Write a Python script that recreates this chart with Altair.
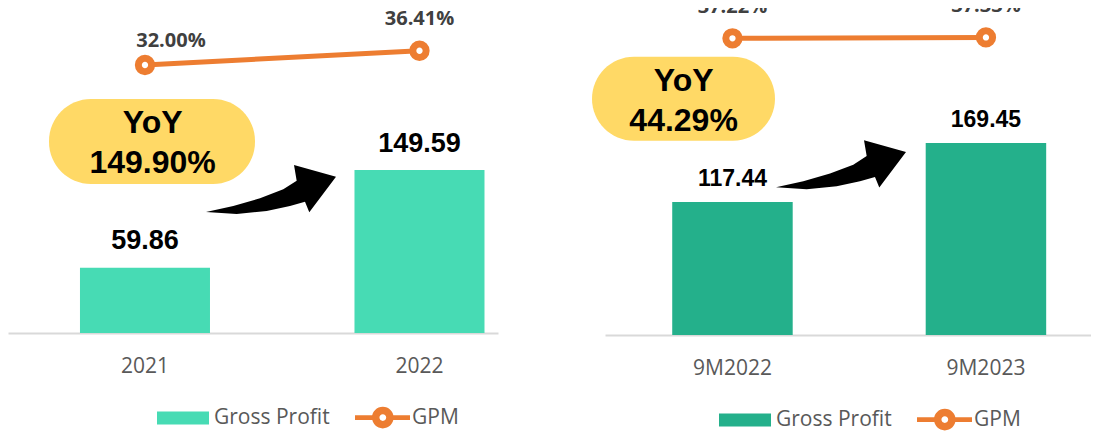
import altair as alt
import pandas as pd

# ---------------- data ----------------
periods_fy = ["2021", "2022"]
gross_profit_fy = [59.86, 149.59]
gpm_fy = [0.3200, 0.3641]
yoy_fy = "149.90%"

periods_9m = ["9M2022", "9M2023"]
gross_profit_9m = [117.44, 169.45]
gpm_9m = [0.3722, 0.3733]
yoy_9m = "44.29%"

series_names = ["Gross Profit", "GPM"]

# ---------------- styling ----------------
TEAL_FY = "#47DBB4"
TEAL_9M = "#24B08B"
ORANGE = "#ED7D31"
GOLD = "#FFD966"
AXIS_GREY = "#D9D9D9"
LABEL_GREY = "#595959"
BOLD_FONT = "Liberation Sans, Arial, sans-serif"
LIGHT_FONT = "Open Sans, sans-serif"

# legend symbols (unit paths; legend symbol size 676 -> 13 px per unit)
SWATCH_PATH = "M -1 -0.5 H 3 V 0.5 H -1 Z"
GPM_PATH = ("M -1 -0.19 H 0.6 V 0.19 H -1 Z "
            "M 1.7 -0.19 H 3.23 V 0.19 H 1.7 Z "
            "M 1.97 0 A 0.83 0.83 0 1 1 0.31 0 A 0.83 0.83 0 1 1 1.97 0 Z "
            "M 1.4 0 A 0.26 0.26 0 1 0 0.88 0 A 0.26 0.26 0 1 0 1.4 0 Z")
# curved, tapered arrow (unit path, drawn 130 px wide)
ARROW_PATH = ("M -1 0.354 L -0.58 0.262 L -0.169 0.143 L 0.189 0.005 "
              "L 0.395 -0.128 L 0.354 -0.369 L 1 -0.189 L 0.589 0.358 "
              "L 0.523 0.195 L 0.292 0.262 L -0.066 0.338 L -0.528 0.385 Z")


def panel(periods, gp, gpm, yoy, bar_color, W, H, xscale, gp_max, gpm_dom,
          bar_font, bar_dy, first_dx, first_dy, bubble, yoy_xy, arrow_xy, legend_xy,
          clip_top):
    df = pd.DataFrame({"period": periods, "gp": gp, "gpm": gpm})
    base = alt.Chart(df)

    x_enc = alt.X(
        "period:N", sort=periods, scale=xscale,
        axis=alt.Axis(title=None, labelAngle=0, ticks=False, tickSize=0,
                      domainColor=AXIS_GREY, domainWidth=2, grid=False,
                      labelFont=LIGHT_FONT, labelFontSize=21, labelColor=LABEL_GREY,
                      labelPadding=33, labelBaseline="middle"))
    y_gp = alt.Y("gp:Q", scale=alt.Scale(domain=[0, gp_max], nice=False, zero=True), axis=None)
    y_gpm = alt.Y("gpm:Q", scale=alt.Scale(domain=gpm_dom, nice=False, zero=False), axis=None)

    bars = base.mark_bar(color=bar_color).encode(x=x_enc, y=y_gp)
    bar_labels = base.mark_text(font=BOLD_FONT, fontSize=bar_font, fontWeight="bold",
                                color="black", baseline="alphabetic", dy=bar_dy).encode(
        x=x_enc, y=y_gp, text=alt.Text("gp:Q", format=".2f"))
    bar_layer = alt.layer(bars, bar_labels)

    line = base.mark_line(color=ORANGE, strokeWidth=5).encode(x=x_enc, y=y_gpm)
    pts = base.mark_point(filled=False, fill="white", fillOpacity=1, stroke=ORANGE,
                          strokeWidth=7, size=177, opacity=1).encode(x=x_enc, y=y_gpm)
    lbl_first = base.transform_filter(alt.datum.period == periods[0]).mark_text(
        font=LIGHT_FONT, fontSize=20, fontWeight="bold", color="#404040",
        baseline="alphabetic", dx=first_dx, dy=first_dy, clip=clip_top).encode(
        x=x_enc, y=y_gpm, text=alt.Text("gpm:Q", format=".2%"))
    lbl_rest = base.transform_filter(alt.datum.period != periods[0]).mark_text(
        font=LIGHT_FONT, fontSize=20, fontWeight="bold", color="#404040",
        baseline="alphabetic", dy=-25.6, clip=clip_top).encode(
        x=x_enc, y=y_gpm, text=alt.Text("gpm:Q", format=".2%"))
    gpm_layer = alt.layer(line, pts, lbl_first, lbl_rest)

    ann = alt.Chart(pd.DataFrame({"label": ["YoY\n" + yoy]}))
    bubble_rect = ann.mark_rect(color=GOLD, cornerRadius=42).encode(
        x=alt.value(bubble[0]), x2=alt.value(bubble[1]),
        y=alt.value(bubble[2]), y2=alt.value(bubble[3]))
    yoy_text = ann.mark_text(font=BOLD_FONT, fontSize=32, fontWeight="bold", color="black",
                             lineBreak="\n", lineHeight=39.5, align="center",
                             baseline="middle").encode(
        x=alt.value(yoy_xy[0]), y=alt.value(yoy_xy[1]), text="label:N")
    arrow = ann.mark_point(shape=ARROW_PATH, filled=True, color="black", size=16900,
                           strokeWidth=0, opacity=1).encode(
        x=alt.value(arrow_xy[0]), y=alt.value(arrow_xy[1]))

    leg = alt.Legend(orient="none", legendX=legend_xy[0], legendY=legend_xy[1],
                     direction="horizontal", title=None, padding=0,
                     labelFont=LIGHT_FONT, labelFontSize=21, labelColor=LABEL_GREY,
                     symbolSize=676, symbolStrokeWidth=0, symbolOpacity=1,
                     labelOffset=31, columnPadding=25)
    leg_df = pd.DataFrame({"series": series_names})
    legend_pts = alt.Chart(leg_df).mark_point(filled=True, clip=True, size=676).encode(
        x=alt.value(-200), y=alt.value(-200),
        color=alt.Color("series:N", sort=series_names,
                        scale=alt.Scale(domain=series_names, range=[bar_color, ORANGE]),
                        legend=leg),
        shape=alt.Shape("series:N", sort=series_names,
                        scale=alt.Scale(domain=series_names, range=[SWATCH_PATH, GPM_PATH]),
                        legend=leg))

    return alt.layer(bubble_rect, bar_layer, gpm_layer, yoy_text, arrow, legend_pts).resolve_scale(
        y="independent").properties(width=W, height=H)


left = panel(periods_fy, gross_profit_fy, gpm_fy, yoy_fy, TEAL_FY, 490, 325,
             alt.Scale(paddingInner=0.5264, paddingOuter=0.1557, align=0.842),
             298.3, [-0.507, 0.496], 27, -18.5, 26, -18.3,
             (41, 247, 91, 176), (144.6, 115), (263, 181), (149, 396.5), False)

right = panel(periods_9m, gross_profit_9m, gpm_9m, yoy_9m, TEAL_9M, 486, 327,
              alt.Scale(paddingInner=0.5247, paddingOuter=0.221, align=0.6),
              288.6, [0, 0.4102], 23, -16.2, 0, -25.6,
              (-13, 170, 48.7, 132.7), (78.6, 73), (236, 156.3), (114, 398.5), True)

chart = alt.hconcat(left, right, spacing=107, bounds="flush").resolve_scale(
    color="independent", shape="independent", x="independent", y="independent"
).resolve_legend(color="independent", shape="independent").properties(
    padding=0, background="white"
).configure_view(stroke=None)

chart.save("out.html", embed_options={"renderer": "svg", "actions": False})
